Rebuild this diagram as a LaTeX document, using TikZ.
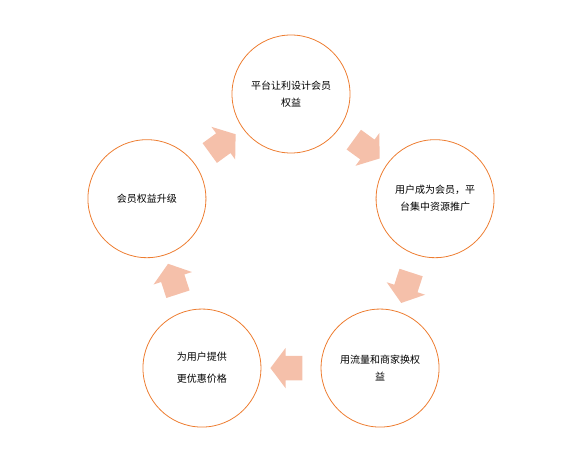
\documentclass[tikz,border=0pt]{standalone}
\usepackage{fontspec}
\newfontfamily\cjk{Noto Sans CJK SC}
\usetikzlibrary{shapes.arrows,calc}
\definecolor{ring}{HTML}{ED7D31}
\definecolor{blockfill}{HTML}{F5C0AA}
\begin{document}
\begin{tikzpicture}[x=1pt,y=1pt,
  ringnode/.style={circle,draw=ring,line width=0.8pt,minimum size=118pt,inner sep=0pt,
    align=center,font=\cjk\fontsize{10}{17}\selectfont},
  blockarrow/.style={single arrow,fill=blockfill,draw=none,minimum height=32pt,
    single arrow head extend=8pt,single arrow tip angle=106,inner xsep=0pt,inner ysep=12pt}]
\useasboundingbox (0,0) rectangle (573,450);
\coordinate (O) at (291,204.5);
\node[ringnode] (cTop) at ($(O)+(90:151.5)$) {平台让利设计会员\\权益};
\node[ringnode] (cRight) at ($(O)+(18:151.5)$) {用户成为会员，平\\台集中资源推广};
\node[ringnode] (cBR) at ($(O)+(-54:151.5)$) {用流量和商家换权\\益};
\node[ringnode] (cBL) at ($(O)+(-126:151.5)$) {为用户提供\\[5pt]更优惠价格};
\node[ringnode] (cLeft) at ($(O)+(162:151.5)$) {会员权益升级};
\foreach \a/\b in {cLeft/cTop, cTop/cRight, cRight/cBR, cBR/cBL, cBL/cLeft}
  \path let \p1=($(\b)-(\a)$), \n1={atan2(\y1,\x1)} in
    node[blockarrow, rotate=\n1] at ($(\a)!0.5!(\b)$) {};
\end{tikzpicture}
\end{document}
